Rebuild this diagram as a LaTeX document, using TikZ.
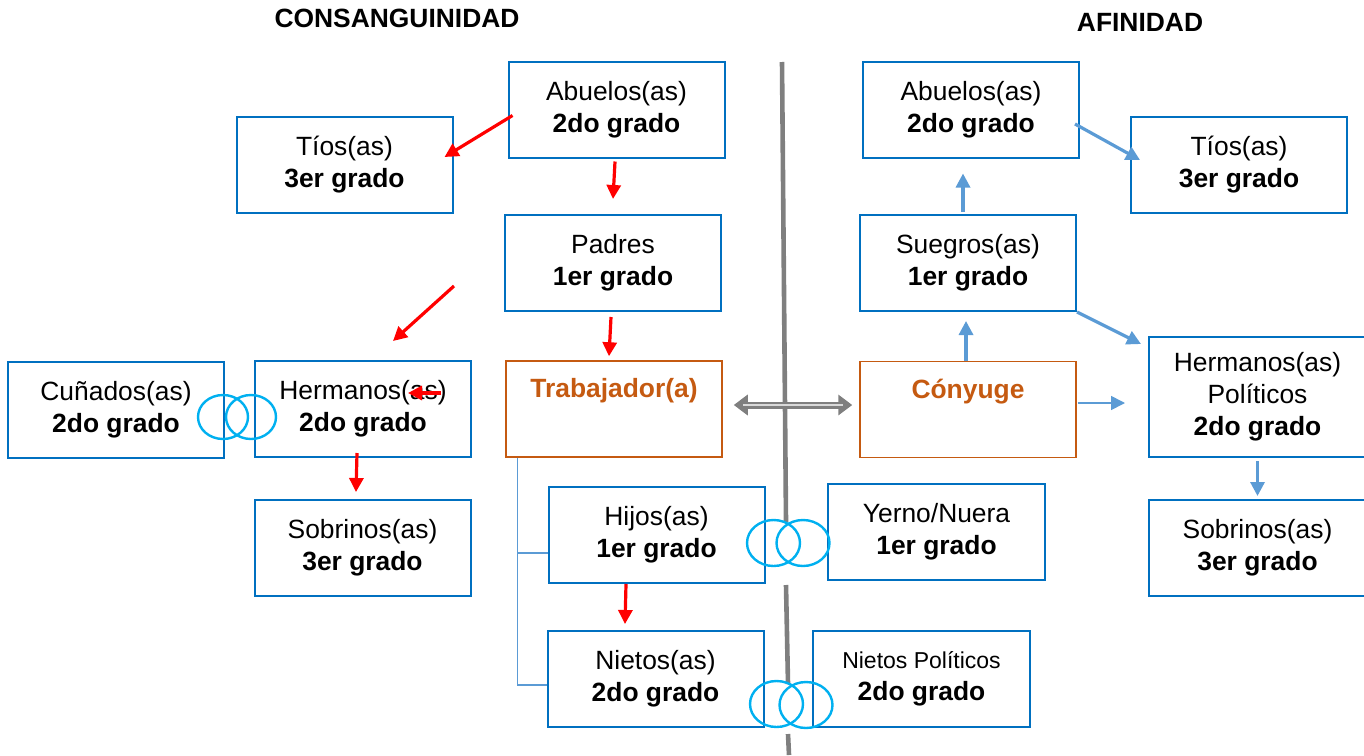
\documentclass[tikz,border=0pt]{standalone}
\usepackage{fontspec}
\setmainfont{Liberation Sans}
\usetikzlibrary{arrows.meta,shapes.geometric}
\definecolor{azulcaja}{HTML}{0070C0}
\definecolor{naranja}{HTML}{C55A11}
\definecolor{azulflecha}{HTML}{5B9BD5}
\definecolor{celeste}{HTML}{00B0F0}
\definecolor{grisEje}{HTML}{7F7F7F}
\tikzstyle{caja}=[draw=azulcaja,line width=1pt,minimum width=108pt,minimum height=48pt,align=center,inner sep=2pt,font=\fontsize{13.2}{16}\selectfont]
\tikzstyle{cajaN}=[caja,draw=naranja,line width=0.75pt,text=naranja,font=\fontsize{13.2}{16}\selectfont\bfseries,text depth=21pt]
\tikzstyle{anillo}=[ellipse,draw=celeste,line width=1.2pt,minimum width=25pt,minimum height=22pt,inner sep=0]
\tikzstyle{titulo}=[font=\fontsize{13.2}{16}\selectfont\bfseries]
\tikzstyle{fr}=[red,line width=1.6pt,-{Triangle[length=7pt,width=7pt]}]
\tikzstyle{fa}=[azulflecha,line width=1.6pt,-{Triangle[length=7pt,width=7pt]}]

\begin{document}
\begin{tikzpicture}[x=0.5pt,y=-0.5pt]
                        \useasboundingbox (0,0) rectangle (1364,755);

                        \node[titulo] (tCon) at (397, 18) {CONSANGUINIDAD};
                        \node[titulo] (tAfi) at (1140, 22) {AFINIDAD};

                        % eje central
                        \coordinate (e1) at (782, 62);
                        \coordinate (e2) at (786, 522);
                        \coordinate (e3) at (786, 585);
                        \coordinate (e4) at (788, 684);
                        \coordinate (e5) at (788, 734);
                        \coordinate (e6) at (789, 755);
                        \draw[grisEje,line width=2.3pt] (e1) -- (e2) (e3) -- (e4) (e5) -- (e6);

                        % consanguinidad
                        \node[caja] (tioL) at (344.5, 165) {T\'ios(as)\\\textbf{3er grado}};
                        \node[caja] (abuL) at (616.5, 109.5) {Abuelos(as)\\\textbf{2do grado}};
                        \node[caja] (pad) at (613, 263) {Padres\\\textbf{1er grado}};
                        \node[cajaN] (trab) at (614, 409) {Trabajador(a)};
                        \node[caja] (herm) at (363, 409) {Hermanos(as)\\\textbf{2do grado}};
                        \node[caja] (cun) at (116, 410) {Cu\~nados(as)\\\textbf{2do grado}};
                        \node[caja] (sobL) at (362.5, 548) {Sobrinos(as)\\\textbf{3er grado}};
                        \node[caja] (hij) at (656.5, 535) {Hijos(as)\\\textbf{1er grado}};
                        \node[caja] (nie) at (655.5, 679) {Nietos(as)\\\textbf{2do grado}};

                        % afinidad
                        \node[caja] (abuR) at (971, 109.5) {Abuelos(as)\\\textbf{2do grado}};
                        \node[caja] (tioR) at (1239, 165) {T\'ios(as)\\\textbf{3er grado}};
                        \node[caja] (sue) at (968, 263) {Suegros(as)\\\textbf{1er grado}};
                        \node[cajaN] (cony) at (968, 409.5) {C\'onyuge};
                        \node[caja,minimum height=60pt,minimum width=108.5pt] (hermP) at (1257.5, 397) {Hermanos(as)\\Pol\'iticos\\\textbf{2do grado}};
                        \node[caja,minimum width=108.5pt] (sobR) at (1257.5, 548) {Sobrinos(as)\\\textbf{3er grado}};
                        \node[caja,minimum width=108.5pt] (yer) at (936.5, 532) {Yerno/Nuera\\\textbf{1er grado}};
                        \node[caja,minimum width=108.5pt] (nieP) at (921.5, 678.5) {{\fontsize{11.5}{14}\selectfont Nietos Pol\'iticos}\\\textbf{2do grado}};

                        % anillos
                        \node[anillo] (a1) at (223, 417) {};
                        \node[anillo] (a2) at (251, 417) {};
                        \node[anillo,minimum width=26.5pt,minimum height=23pt] (a3) at (773.5, 543) {};
                        \node[anillo,minimum width=26.5pt,minimum height=23pt] (a4) at (803, 543) {};
                        \node[anillo,minimum width=26.5pt,minimum height=23pt] (a5) at (776.5, 704) {};
                        \node[anillo,minimum width=26.5pt,minimum height=23pt] (a6) at (806, 705) {};

                        % flechas rojas
                        \draw[fr] ([shift={(5,6)}]abuL.west) -- ([shift={(-9,-8)}]tioL.east);
                        \draw[fr] ([shift={(-1.5,3)}]abuL.south) -- ([shift={(0,-15)}]pad.north);
                        \draw[fr] ([shift={(-50,23)}]pad.west) -- ([shift={(30,-19)}]herm.north);
                        \draw[fr] ([shift={(-2,5)}]pad.south) -- ([shift={(-5,-4)}]trab.north);
                        \draw[fr] ([shift={(-31,-16)}]herm.east) -- ([shift={(45,-16)}]herm.center);
                        \draw[fr] ([shift={(-6,-5)}]herm.south) -- ([shift={(-6.5,-7)}]sobL.north);
                        \draw[fr] ([shift={(-30.5,0)}]hij.south) -- ([shift={(-30.5,-6)}]nie.north);

                        % flechas azules
                        \draw[fa] ([shift={(-5,14.5)}]abuR.east) -- ([shift={(10,-5)}]tioR.west);
                        \draw[fa] ([shift={(-5,-2)}]sue.north) -- ([shift={(-8,15)}]abuR.south);
                        \draw[fa] ([shift={(-2,0)}]cony.north) -- ([shift={(-2,9)}]sue.south);
                        \draw[fa] (sue.south east) -- ([shift={(-7,8)}]hermP.north west);
                        \draw[fa,line width=0.8pt] ([shift={(1,-6.5)}]cony.east) -- ([shift={(-23,6)}]hermP.west);
                        \draw[fa] ([shift={(0,3)}]hermP.south) -- ([shift={(0,-3)}]sobR.north);

                        % doble flecha
                        \draw[grisEje,line width=3.5pt,{Triangle[length=7pt,width=10pt]}-{Triangle[length=7pt,width=10pt]}]
                        ([shift={(11,-4)}]trab.east) -- ([shift={(-7,-4.5)}]cony.west);
                        \draw[gray!30,line width=1.2pt]
                        ([shift={(20,-4)}]trab.east) -- ([shift={(-16,-4.5)}]cony.west);

                        % descendientes
                        \coordinate (brk) at ([shift={(12,0)}]trab.south west);
                        \coordinate (hijT) at ([shift={(0,18)}]hij.west);
                        \coordinate (nieT) at ([shift={(0,6)}]nie.west);
                        \draw[azulflecha,line width=0.6pt]
                        (brk) |- (nieT)
                        (brk |- hijT) -- (hijT)
                        ;

\end{tikzpicture}
\end{document}
